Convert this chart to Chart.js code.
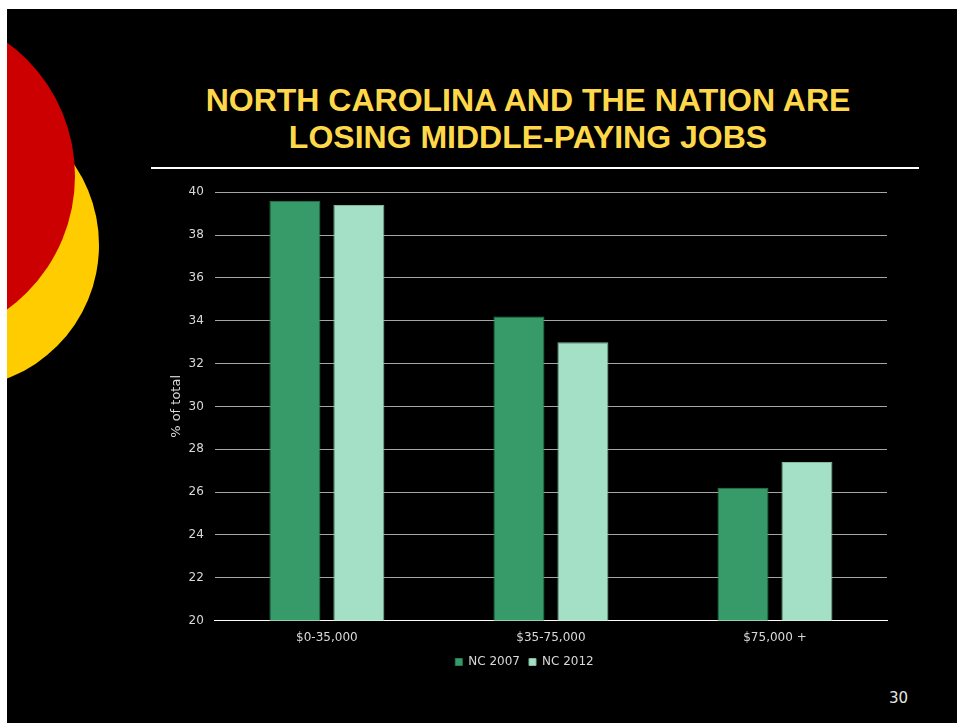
<!DOCTYPE html>
<html>
<head>
<meta charset="utf-8">
<script src="https://cdn.jsdelivr.net/npm/chart.js@4.4.0/dist/chart.umd.min.js"></script>
<style>
  html, body { margin: 0; padding: 0; background: #fff; }
  #slide { position: absolute; left: 7px; top: 9px; width: 950px; height: 714px; background: #000; overflow: hidden; }
  .circle { position: absolute; border-radius: 50%; }
  #yellow { left: -194px; top: 93px; width: 286px; height: 286px; background: #ffcc00; }
  #red { left: -262px; top: 2px; width: 330px; height: 330px; background: #cc0000; }
  #title { position: absolute; left: 0; width: 1042px; top: 73px; text-align: center;
           font-family: "Liberation Sans", Arial, sans-serif; font-weight: bold; font-size: 32px;
           line-height: 37px; color: #ffd84a; }
  #rule { position: absolute; left: 144px; top: 158px; width: 768px; height: 2px; background: #fff; }
  #pagenum { position: absolute; left: 882px; top: 680px; font-family: "DejaVu Sans", sans-serif;
             font-size: 15px; color: #e6e6e6; }
  #chartBox { position: absolute; left: 143px; top: 165px; width: 750px; height: 504px; }
</style>
</head>
<body>
<div id="slide">
  <div id="yellow" class="circle"></div>
  <div id="red" class="circle"></div>
  <div id="title">NORTH CAROLINA AND THE NATION ARE<br>LOSING MIDDLE-PAYING JOBS</div>
  <div id="rule"></div>
  <div id="chartBox"><canvas id="jobsChart"></canvas></div>
  <div id="pagenum">30</div>
</div>
<script>
const categories = ['$0-35,000', '$35-75,000', '$75,000 +'];
const nc2007 = [39.6, 34.2, 26.2];
const nc2012 = [39.4, 33.0, 27.4];
const yTicks = [20, 22, 24, 26, 28, 30, 32, 34, 36, 38, 40];

const tickFont = { family: 'DejaVu Sans', size: 12 };

const ctx = document.getElementById('jobsChart').getContext('2d');
const jobsChart = new Chart(ctx, {
    type: 'bar',
    data: {
        labels: categories,
        datasets: [{
            label: 'NC 2007',
            data: nc2007,
            backgroundColor: '#369b69',
            borderColor: '#2a7a52',
            borderWidth: 1
        }, {
            label: 'NC 2012',
            data: nc2012,
            backgroundColor: '#a3e0c5',
            borderColor: '#7fb89d',
            borderWidth: 1
        }]
    },
    options: {
        responsive: true,
        maintainAspectRatio: false,
        animation: false,
        categoryPercentage: 0.571,
        barPercentage: 0.797,
        layout: { padding: { top: 4, right: 13, left: 12, bottom: 0 } },
        plugins: {
            legend: {
                position: 'bottom',
                labels: {
                    color: '#d9d9d9',
                    font: tickFont,
                    boxWidth: 7,
                    boxHeight: 7,
                    padding: 9
                }
            },
            tooltip: { enabled: false }
        },
        scales: {
            x: {
                grid: { display: false },
                border: { color: '#ffffff', width: 1 },
                ticks: { color: '#d9d9d9', font: tickFont, padding: 2 }
            },
            y: {
                min: 20,
                max: 40,
                afterBuildTicks: axis => { axis.ticks = yTicks.map(v => ({ value: v })); },
                grid: { color: '#a6a6a6', drawTicks: false },
                border: { display: false },
                ticks: { color: '#d9d9d9', font: tickFont, padding: 11 },
                title: { display: true, text: '% of total', color: '#d9d9d9',
                         font: { family: 'DejaVu Sans', size: 13 }, padding: { top: 7, bottom: -7 } }
            }
        }
    }
});
</script>
</body>
</html>
